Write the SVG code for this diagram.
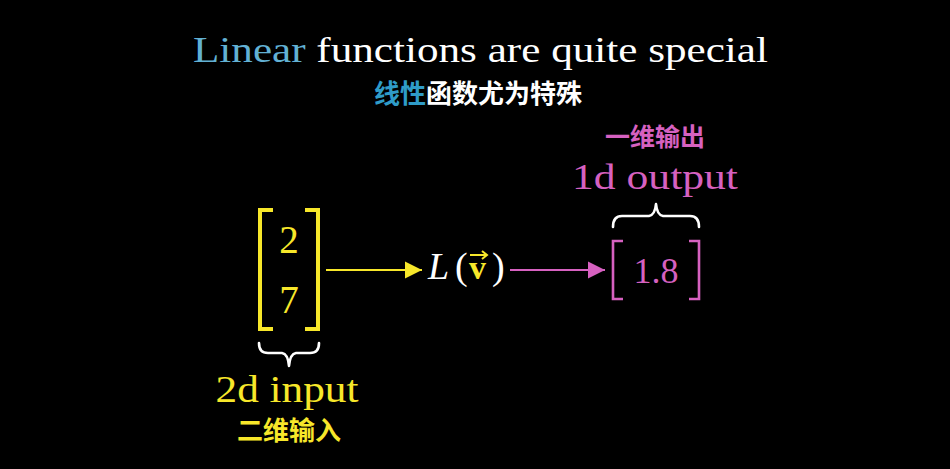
<svg xmlns="http://www.w3.org/2000/svg" width="950" height="469" viewBox="0 0 950 469">
<style>
.serif{font-family:"Liberation Serif","DejaVu Serif",serif;}
.cjk{font-family:"Noto Sans CJK SC","Noto Sans",sans-serif;font-weight:bold;}
.y{fill:#f7e72a;}
.m{fill:#d661c0;}
.w{fill:#ffffff;}
.b{fill:#62b1d4;}
.yb{fill:none;stroke:#f7e72a;stroke-width:4;}
.mb{fill:none;stroke:#d661c0;stroke-width:2.6;}
.brace{fill:none;stroke:#ffffff;stroke-width:2.6;stroke-linecap:round;stroke-linejoin:round;}
</style>
<defs>
<marker id="ay" viewBox="0 0 10 10" refX="10" refY="5" markerWidth="17" markerHeight="18" markerUnits="userSpaceOnUse" orient="auto"><path d="M0,0 L10,5 L0,10 Z" fill="#f7e72a"/></marker>
<marker id="am" viewBox="0 0 10 10" refX="10" refY="5" markerWidth="17" markerHeight="18" markerUnits="userSpaceOnUse" orient="auto"><path d="M0,0 L10,5 L0,10 Z" fill="#d661c0"/></marker>
</defs>
<rect width="950" height="469" fill="#000"/>
<g id="title">
<text class="serif" x="193" y="62" font-size="36" textLength="575" lengthAdjust="spacingAndGlyphs"><tspan class="b">Linear</tspan><tspan class="w"> functions are quite special</tspan></text>
<text class="cjk" x="478" y="103" font-size="26" text-anchor="middle"><tspan style="fill:#2f9cc8">线性</tspan><tspan class="w">函数尤为特殊</tspan></text>
</g>
<g id="input">
<path class="yb" d="M273,210 L260,210 L260,329 L273,329"/>
<path class="yb" d="M305,210 L318,210 L318,329 L305,329"/>
<text class="serif y" x="289" y="253" font-size="39" text-anchor="middle">2</text>
<text class="serif y" x="289" y="313" font-size="39" text-anchor="middle">7</text>
<path class="brace" d="M259,343 Q259,353 268,353 L282,353 Q288,354 289,366 Q290,354 296,353 L310,353 Q319,353 319,343"/>
<text class="serif y" x="287" y="402" font-size="37" text-anchor="middle" textLength="143" lengthAdjust="spacingAndGlyphs">2d input</text>
<text class="cjk y" x="289" y="440" font-size="26" text-anchor="middle">二维输入</text>
</g>
<g id="function">
<text class="serif w" x="428" y="279" font-size="38" font-style="italic">L</text>
<text class="serif w" x="455" y="279" font-size="38">(</text>
<text class="serif y" x="469" y="279" font-size="34" font-weight="bold">v</text>
<path d="M470,255 L486,255 M482,251 L487,255 L482,259" fill="none" stroke="#f7e72a" stroke-width="2"/>
<text class="serif w" x="492" y="279" font-size="38">)</text>
</g>
<g id="output">
<path class="mb" d="M623,241 L613,241 L613,299 L623,299"/>
<path class="mb" d="M689,241 L699,241 L699,299 L689,299"/>
<text class="serif m" x="656" y="283" font-size="36" text-anchor="middle">1.8</text>
<path class="brace" d="M613,227 Q613,216 622,216 L649,216 Q655,215 656,204 Q657,215 663,216 L690,216 Q699,216 699,227"/>
<text class="serif m" x="655" y="189" font-size="36" text-anchor="middle" textLength="166" lengthAdjust="spacingAndGlyphs">1d output</text>
<text class="cjk m" x="655" y="146" font-size="25" text-anchor="middle">一维输出</text>
</g>
<g id="connectors">
<line x1="326" y1="270" x2="422" y2="270" stroke="#f7e72a" stroke-width="2" marker-end="url(#ay)"/>
<line x1="510" y1="270" x2="605" y2="270" stroke="#d661c0" stroke-width="2" marker-end="url(#am)"/>
</g>
</svg>
